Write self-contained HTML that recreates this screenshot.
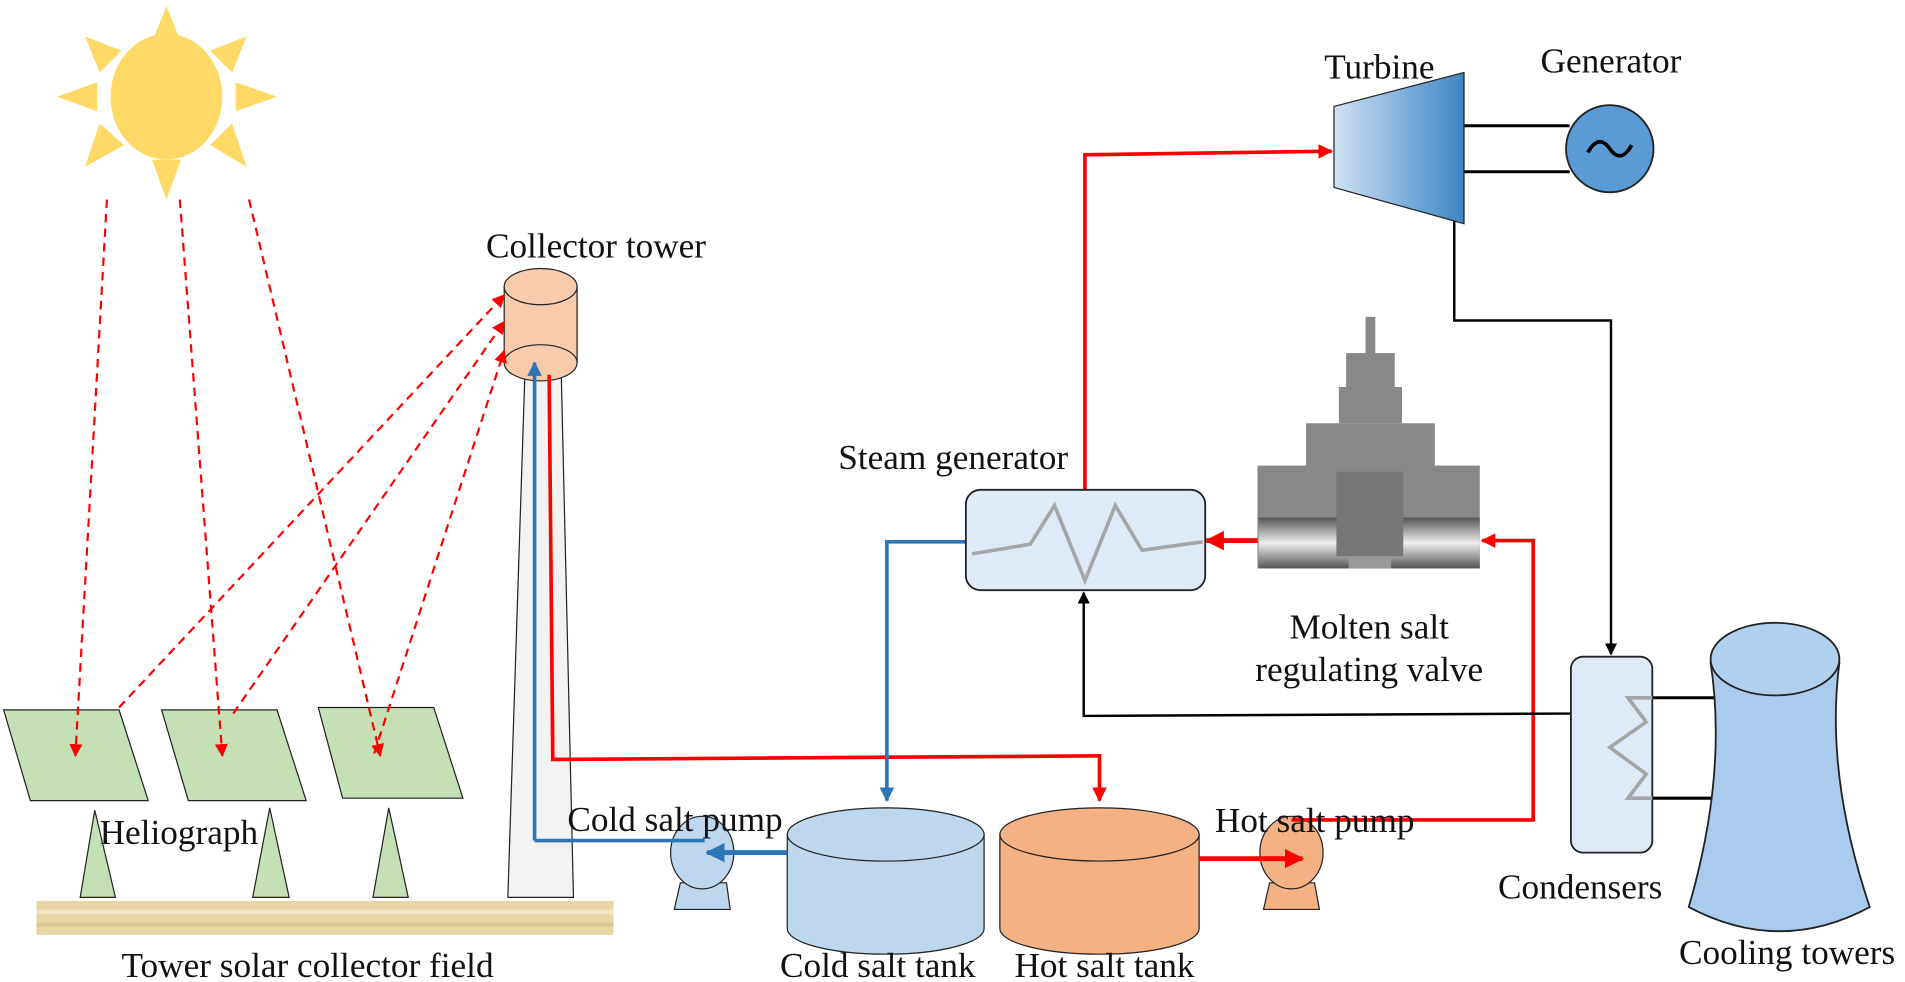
<!DOCTYPE html>
<html><head><meta charset="utf-8"><style>
html,body{margin:0;padding:0;background:#fff;width:1905px;height:982px;overflow:hidden}
svg{display:block}
text{font-family:"Liberation Serif",serif;font-size:29px;fill:#111}
</style></head><body>
<svg width="1905" height="982" viewBox="0 0 1568 812" preserveAspectRatio="none" xmlns="http://www.w3.org/2000/svg">
<defs>
<marker id="ar" viewBox="0 0 10 10" refX="9" refY="5" markerWidth="4" markerHeight="4" orient="auto"><path d="M0,0L10,5L0,10z" fill="#f00"/></marker>
<marker id="ab" viewBox="0 0 10 10" refX="9" refY="5" markerWidth="4" markerHeight="4" orient="auto"><path d="M0,0L10,5L0,10z" fill="#2e75b6"/></marker>
<marker id="ak" viewBox="0 0 10 10" refX="9" refY="5" markerWidth="5" markerHeight="5" orient="auto"><path d="M0,0L10,5L0,10z" fill="#000"/></marker>
<marker id="ad" viewBox="0 0 10 10" refX="9" refY="5" markerWidth="6" markerHeight="6" orient="auto"><path d="M0,0L10,5L0,10z" fill="#f00"/></marker>
<linearGradient id="tg" x1="0" x2="1"><stop offset="0" stop-color="#cfe2f3"/><stop offset="1" stop-color="#3d85c6"/></linearGradient>
<linearGradient id="vg" x1="0" y1="0" x2="0" y2="1"><stop offset="0" stop-color="#555"/><stop offset="0.5" stop-color="#eee"/><stop offset="1" stop-color="#555"/></linearGradient>
</defs>
<g fill="#ffd966">
<ellipse cx="137" cy="80" rx="46" ry="52"/>
<polygon points="137,5 125,35 149,35"/>
<polygon points="137,165 125,132 149,132"/>
<polygon points="47,80 80,68 80,92"/>
<polygon points="228,80 194,68 194,92"/>
<polygon points="70,30 100,42 82,60"/>
<polygon points="203,30 173,42 191,60"/>
<polygon points="70,138 82,102 102,120"/>
<polygon points="203,138 191,102 173,120"/>
</g>
<rect x="30" y="745" width="475" height="28" fill="#e6d6a6"/>
<rect x="30" y="752" width="475" height="4" fill="#f1e6c3"/>
<rect x="30" y="763" width="475" height="3" fill="#d8c590"/>
<g fill="#c5e0b4" stroke="#222" stroke-width="1">
<polygon points="78,670 66,742 95,742"/>
<polygon points="222,668 208,742 238,742"/>
<polygon points="320,668 307,742 336,742"/>
<polygon points="3,587 98,587 122,662 25,662"/>
<polygon points="133,587 228,587 252,662 155,662"/>
<polygon points="262,585 357,585 381,660 282,660"/>
</g>
<polygon points="432,310 462,310 472,742 418,742" fill="#f2f2f2" stroke="#222" stroke-width="1"/>
<path d="M415,237 L415,300 A30,15 0 0 0 475,300 L475,237 Z" fill="#f8cbad" stroke="#222"/>
<ellipse cx="445" cy="237" rx="30" ry="15" fill="#f8cbad" stroke="#222"/>
<path d="M415,300 A30,15 0 0 1 475,300" fill="none" stroke="#222"/>
<g stroke="#f00" stroke-width="1.8" stroke-dasharray="7,5" fill="none" marker-end="url(#ad)">
<line x1="88" y1="165" x2="62" y2="625"/>
<line x1="148" y1="165" x2="183" y2="625"/>
<line x1="205" y1="165" x2="313" y2="625"/>
<line x1="98" y1="585" x2="415" y2="244"/>
<line x1="192" y1="590" x2="415" y2="266"/>
<line x1="308" y1="623" x2="415" y2="290"/>
</g>
<path d="M648,690 L648,768 A81,21 0 0 0 810,768 L810,690 Z" fill="#bdd7ee" stroke="#222"/>
<ellipse cx="729" cy="690" rx="81" ry="22" fill="#bdd7ee" stroke="#222"/>
<path d="M823,690 L823,768 A82,21 0 0 0 987,768 L987,690 Z" fill="#f4b183" stroke="#222"/>
<ellipse cx="905" cy="690" rx="82" ry="22" fill="#f4b183" stroke="#222"/>
<polygon points="560,730 598,730 601,752 555,752" fill="#bdd7ee" stroke="#222"/>
<ellipse cx="578" cy="705" rx="26" ry="30" fill="#bdd7ee" stroke="#222"/>
<polygon points="1045,730 1082,730 1086,752 1040,752" fill="#f4b183" stroke="#222"/>
<ellipse cx="1063" cy="705" rx="26" ry="30" fill="#f4b183" stroke="#222"/>
<polyline points="440,695 440,300" stroke="#2e75b6" stroke-width="3" fill="none" marker-end="url(#ab)"/>
<polyline points="440,695 580,695" stroke="#2e75b6" stroke-width="3" fill="none"/>
<polyline points="452,310 455,628 905,625 905,662" stroke="#f00" stroke-width="3" fill="none" marker-end="url(#ar)"/>
<line x1="648" y1="705" x2="582" y2="705" stroke="#2e75b6" stroke-width="4" marker-end="url(#ab)"/>
<line x1="987" y1="710" x2="1072" y2="710" stroke="#f00" stroke-width="4" marker-end="url(#ar)"/>
<polyline points="1063,678 1262,678 1262,447 1220,447" stroke="#f00" stroke-width="3" fill="none" marker-end="url(#ar)"/>
<line x1="1035" y1="447" x2="993" y2="447" stroke="#f00" stroke-width="4" marker-end="url(#ar)"/>
<polyline points="795,448 730,448 730,662" stroke="#2e75b6" stroke-width="3" fill="none" marker-end="url(#ab)"/>
<polyline points="893,405 893,128 1096,125" stroke="#f00" stroke-width="3" fill="none" marker-end="url(#ar)"/>
<polyline points="1197,180 1197,265 1326,265 1326,541" stroke="#000" stroke-width="2" fill="none" marker-end="url(#ak)"/>
<polyline points="1293,590 892,592 892,490" stroke="#000" stroke-width="2" fill="none" marker-end="url(#ak)"/>
<line x1="1205" y1="104" x2="1292" y2="104" stroke="#000" stroke-width="2.5"/>
<line x1="1205" y1="142" x2="1292" y2="142" stroke="#000" stroke-width="2.5"/>
<line x1="1360" y1="577" x2="1412" y2="577" stroke="#000" stroke-width="2.5"/>
<line x1="1360" y1="660" x2="1410" y2="660" stroke="#000" stroke-width="2.5"/>
<rect x="795" y="405" width="197" height="83" rx="12" fill="#deebf7" stroke="#222" stroke-width="1.5"/>
<polyline points="800,458 848,450 868,418 893,480 918,418 940,455 990,448" fill="none" stroke="#a6a6a6" stroke-width="3"/>
<g fill="#888">
<rect x="1124" y="262" width="8" height="50"/>
<rect x="1108" y="292" width="40" height="28"/>
<rect x="1102" y="320" width="52" height="30"/>
<rect x="1075" y="350" width="106" height="40"/>
<rect x="1035" y="385" width="183" height="85"/>
<rect x="1036" y="428" width="182" height="42" fill="url(#vg)"/>
<rect x="1100" y="390" width="55" height="70" fill="#777"/>
<rect x="1110" y="460" width="35" height="10" fill="#999"/>
</g>
<polygon points="1098,88 1205,60 1205,185 1098,155" fill="url(#tg)" stroke="#222"/>
<circle cx="1325" cy="123" r="36" fill="#5b9bd5" stroke="#222" stroke-width="1.5"/>
<path d="M1307,126 Q1316,110 1325,123 Q1334,136 1343,120" fill="none" stroke="#000" stroke-width="3"/>
<rect x="1293" y="543" width="67" height="162" rx="10" fill="#deebf7" stroke="#222" stroke-width="1.5"/>
<polyline points="1360,577 1340,577 1355,597 1325,618 1355,640 1340,660 1360,660" fill="none" stroke="#a6a6a6" stroke-width="3"/>
<path d="M1408,548 Q1422,640 1390,750 Q1465,790 1539,750 Q1502,640 1514,548 Z" fill="#a9cbee" stroke="#222" stroke-width="1.5"/>
<ellipse cx="1461" cy="545" rx="53" ry="30" fill="#b0d0f0" stroke="#222" stroke-width="1.5"/>
<text x="1090" y="65">Turbine</text>
<text x="1268" y="60">Generator</text>
<text x="400" y="213">Collector tower</text>
<text x="690" y="388">Steam generator</text>
<text x="1127" y="528" text-anchor="middle">Molten salt</text>
<text x="1127" y="563" text-anchor="middle">regulating valve</text>
<text x="1233" y="743">Condensers</text>
<text x="1382" y="797">Cooling towers</text>
<text x="1000" y="688">Hot salt pump</text>
<text x="467" y="687">Cold salt pump</text>
<text x="82" y="698">Heliograph</text>
<text x="100" y="808">Tower solar collector field</text>
<text x="642" y="808">Cold salt tank</text>
<text x="835" y="808">Hot salt tank</text>
</svg>
</body></html>
